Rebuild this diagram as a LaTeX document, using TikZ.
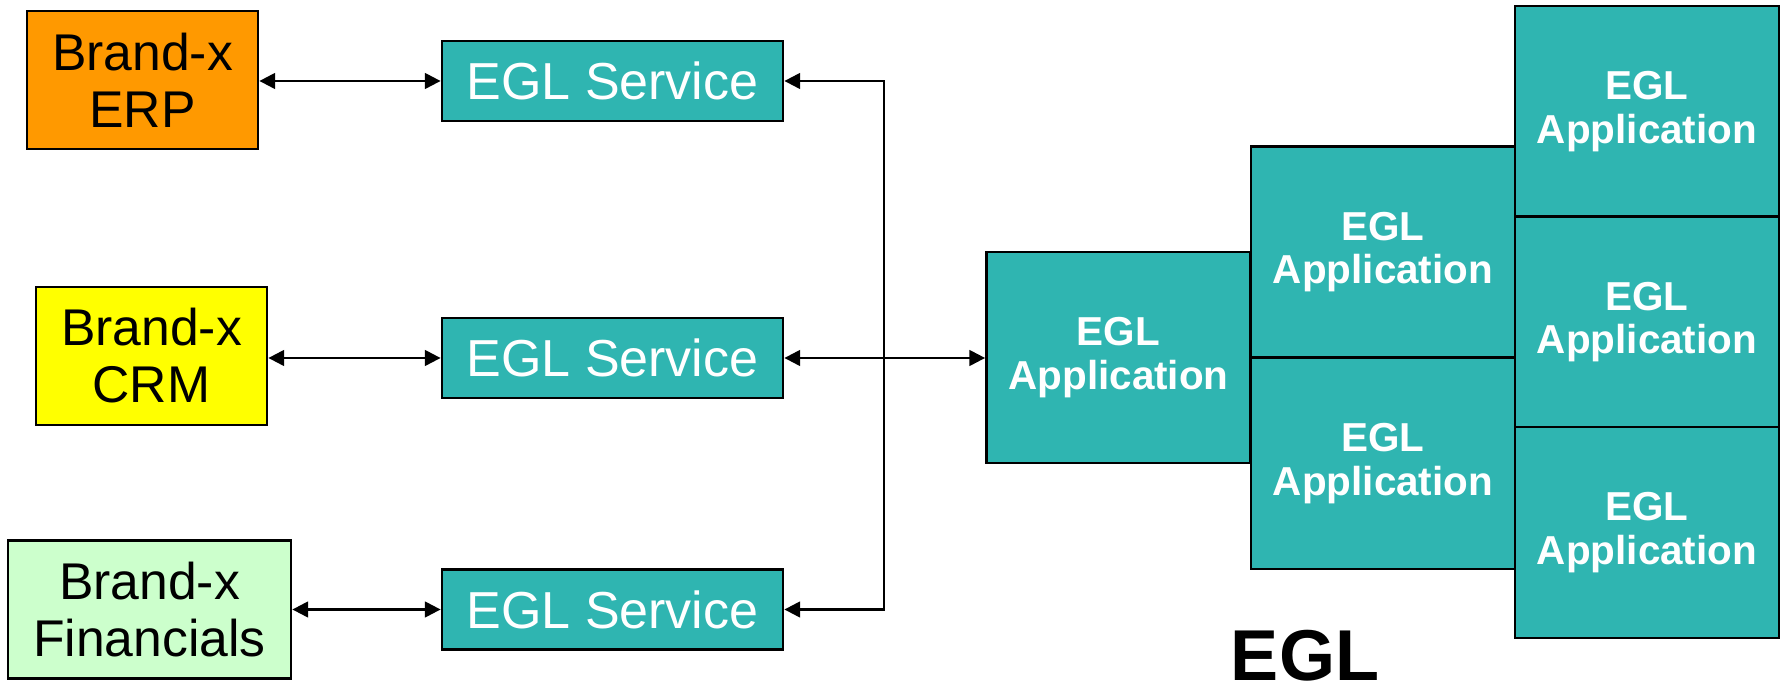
\documentclass[tikz,border=0pt]{standalone}
\usepackage{fontspec}
\setmainfont{Liberation Sans}
\usepackage{tikz}
\usetikzlibrary{calc}
\usetikzlibrary{arrows.meta}
\definecolor{eglteal}{RGB}{47,181,177}
\definecolor{erporange}{RGB}{255,153,0}
\definecolor{crmyellow}{RGB}{255,255,0}
\definecolor{fingreen}{RGB}{204,255,204}
\tikzset{
  brandbox/.style={draw, line width=0.8pt, inner sep=0pt, align=center,
    minimum height=1.38cm, font=\fontsize{14.7}{16.2}\selectfont},
  svcbox/.style={draw, line width=0.8pt, fill=eglteal, text=white, inner sep=0pt,
    minimum width=3.41cm, minimum height=0.8cm, font=\fontsize{14.8}{16}\selectfont},
  appbox/.style={draw, line width=0.8pt, fill=eglteal, text=white, inner sep=0pt,
    align=center, minimum width=2.64cm, minimum height=2.11cm,
    font=\fontsize{11.5}{12.3}\selectfont\bfseries},
  link/.style={line width=0.65pt, {Triangle[length=4.5pt,width=4.5pt]}-{Triangle[length=4.5pt,width=4.5pt]}}
}
\newcommand{\appbox}[3]{\node[appbox] (#1) at ( #2 , #3 ) {EGL\\Application};}
\begin{document}
\begin{tikzpicture}
            \useasboundingbox (0,0) rectangle (17.87,6.93);

            % brand-x systems
            \node[brandbox, fill=erporange, minimum width=2.31cm] (erp) at (1.425,6.13) {Brand-x\\ERP};
            \node[brandbox, fill=crmyellow, minimum width=2.31cm] (crm) at (1.515,3.37) {Brand-x\\CRM};
            \node[brandbox, fill=fingreen, minimum width=2.83cm] (fin) at (1.495,0.835) {Brand-x\\Financials};

            % services
            \node[svcbox] (svcerp) at (6.125,6.12) {EGL Service};
            \node[svcbox] (svccrm) at (6.125,3.35) {EGL Service};
            \node[svcbox] (svcfin) at (6.125,0.835) {EGL Service};

            % applications
            \appbox{app}{11.185}{3.355}
            % column 2
            \appbox{appmidtop}{13.83}{4.41}
            \appbox{appmidbot}{13.83}{2.295}
            % column 3
            \appbox{apptop}{16.47}{5.815}
            \appbox{appmid}{16.47}{3.71}
            \appbox{appbot}{16.47}{1.605}

            \node[inner sep=0pt, font=\fontsize{20.5}{24}\selectfont\bfseries] (egl) at (13.05,0.37) {EGL};

            % links
            \draw[link] (erp.east |- svcerp.west) -- (svcerp.west);
            \draw[link] (crm.east |- svccrm.west) -- (svccrm.west);
            \draw[link] (fin.east |- svcfin.west) -- (svcfin.west);

            % bus
            \coordinate (bustop) at (8.84,6.12);
            \coordinate (busbot) at (8.84,0.835);
            \draw[link] (svcerp.east) -- (bustop) -- (busbot) -- (svcfin.east);
            \draw[link] (svccrm.east) -- (svccrm.east -| app.west);
        \end{tikzpicture}
\end{document}
